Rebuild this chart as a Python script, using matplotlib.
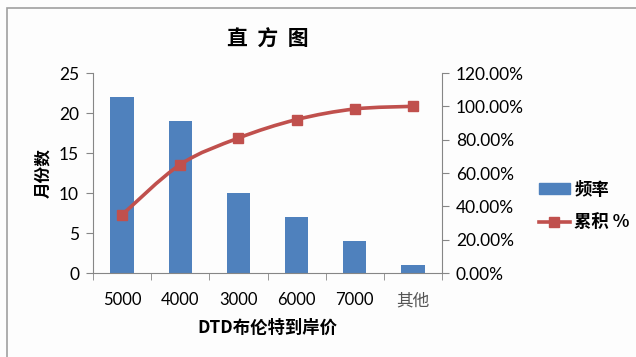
import numpy as np
import matplotlib.pyplot as plt
from matplotlib.path import Path
from matplotlib.patches import PathPatch, Rectangle
from matplotlib.lines import Line2D
from matplotlib.ticker import FuncFormatter

plt.rcParams['font.family'] = ['Lato', 'Noto Sans CJK SC', 'DejaVu Sans']

# price bins and monthly counts
categories = ["5000", "4000", "3000", "6000", "7000", "其他"]
frequency = [22, 19, 10, 7, 4, 1]
cumulative_pct = [34.92, 65.08, 80.95, 92.06, 98.41, 100.00]

BAR_COLOR = "#4F81BD"
LINE_COLOR = "#C0504D"
AXIS_COLOR = "#868686"
CJK = ['Noto Sans CJK SC', 'DejaVu Sans']

fig = plt.figure(figsize=(6.36, 3.57), dpi=100)
fig.patch.set_facecolor("#fdfdfd")

# chart area frame (only top/left edges fall inside the image)
fig.add_artist(Rectangle((7 / 636, -0.05), 1.2, 1 - 8 / 357 + 0.05,
                         transform=fig.transFigure, fill=False,
                         edgecolor="#a0a0a0", linewidth=1.2))

ax = fig.add_axes([93 / 636, 1 - 273 / 357, (442 - 93) / 636, 200 / 357])
ax.set_facecolor("none")
x = np.arange(len(categories))
ax.bar(x, frequency, width=0.4, color=BAR_COLOR, zorder=2)

ax.set_xlim(-0.5, len(categories) - 0.5)
ax.set_ylim(0, 25)
ax.set_yticks(range(0, 26, 5))
ax.set_xticks(x)
ax.set_xticklabels(categories)
ax.get_xticklabels()[-1].set_family(CJK)
ax.get_xticklabels()[-1].set_color("#555555")
ax.set_xticks(np.arange(-0.5, len(categories), 1.0), minor=True)
ax.tick_params(axis="x", which="major", length=0, pad=14, labelsize=12)
ax.tick_params(axis="x", which="minor", length=5, color=AXIS_COLOR, direction="out")
ax.tick_params(axis="y", length=5, color=AXIS_COLOR, labelsize=12.5, pad=5)

for side in ("top", "right"):
    ax.spines[side].set_visible(False)
for side in ("left", "bottom"):
    ax.spines[side].set_color(AXIS_COLOR)

ax.set_ylabel("月份数", family=CJK, fontweight="bold", fontsize=12, labelpad=5)
ax.set_xlabel("DTD布伦特到岸价", family=CJK, fontweight="bold", fontsize=12.5, labelpad=7)
ax.set_title("直  方  图", family=CJK, fontweight="bold", fontsize=15, pad=20)

# cumulative percentage on the right axis
ax2 = ax.twinx()
ax2.set_ylim(0, 120)
ax2.set_yticks(range(0, 121, 20))
ax2.yaxis.set_major_formatter(FuncFormatter(lambda v, _: f"{v:.2f}%"))
ax2.tick_params(axis="y", length=5, color=AXIS_COLOR, labelsize=12.5, pad=5)
for side in ("top", "left", "bottom"):
    ax2.spines[side].set_visible(False)
ax2.spines["right"].set_color(AXIS_COLOR)

# smoothed curve through the points (Catmull-Rom as cubic Bezier)
pts = np.column_stack([x, cumulative_pct]).astype(float)
ext = np.vstack([pts[0], pts, pts[-1]])
verts = [tuple(pts[0])]
codes = [Path.MOVETO]
for i in range(len(pts) - 1):
    p0, p1, p2, p3 = ext[i], ext[i + 1], ext[i + 2], ext[i + 3]
    c1 = p1 + (p2 - p0) / 6
    c2 = p2 - (p3 - p1) / 6
    verts += [tuple(c1), tuple(c2), tuple(p2)]
    codes += [Path.CURVE4] * 3
ax2.add_patch(PathPatch(Path(verts, codes), fill=False, edgecolor=LINE_COLOR,
                        linewidth=2.6, zorder=3))
ax2.plot(x, cumulative_pct, linestyle="none", marker="s", markersize=7.5,
         color=LINE_COLOR, zorder=4)

handles = [
    Rectangle((0, 0), 1, 1, color=BAR_COLOR),
    Line2D([], [], color=LINE_COLOR, linewidth=2.6, marker="s", markersize=7.5),
]
fig.legend(handles, ["频率", "累积 %"], loc="center left",
           bbox_to_anchor=(523 / 636, 1 - 206 / 357), frameon=False,
           prop={"family": CJK, "weight": "bold", "size": 12.5},
           handlelength=1.8, handleheight=0.55, handletextpad=0.25, labelspacing=0.85)

fig.savefig("out.png", dpi=100, facecolor=fig.get_facecolor())
